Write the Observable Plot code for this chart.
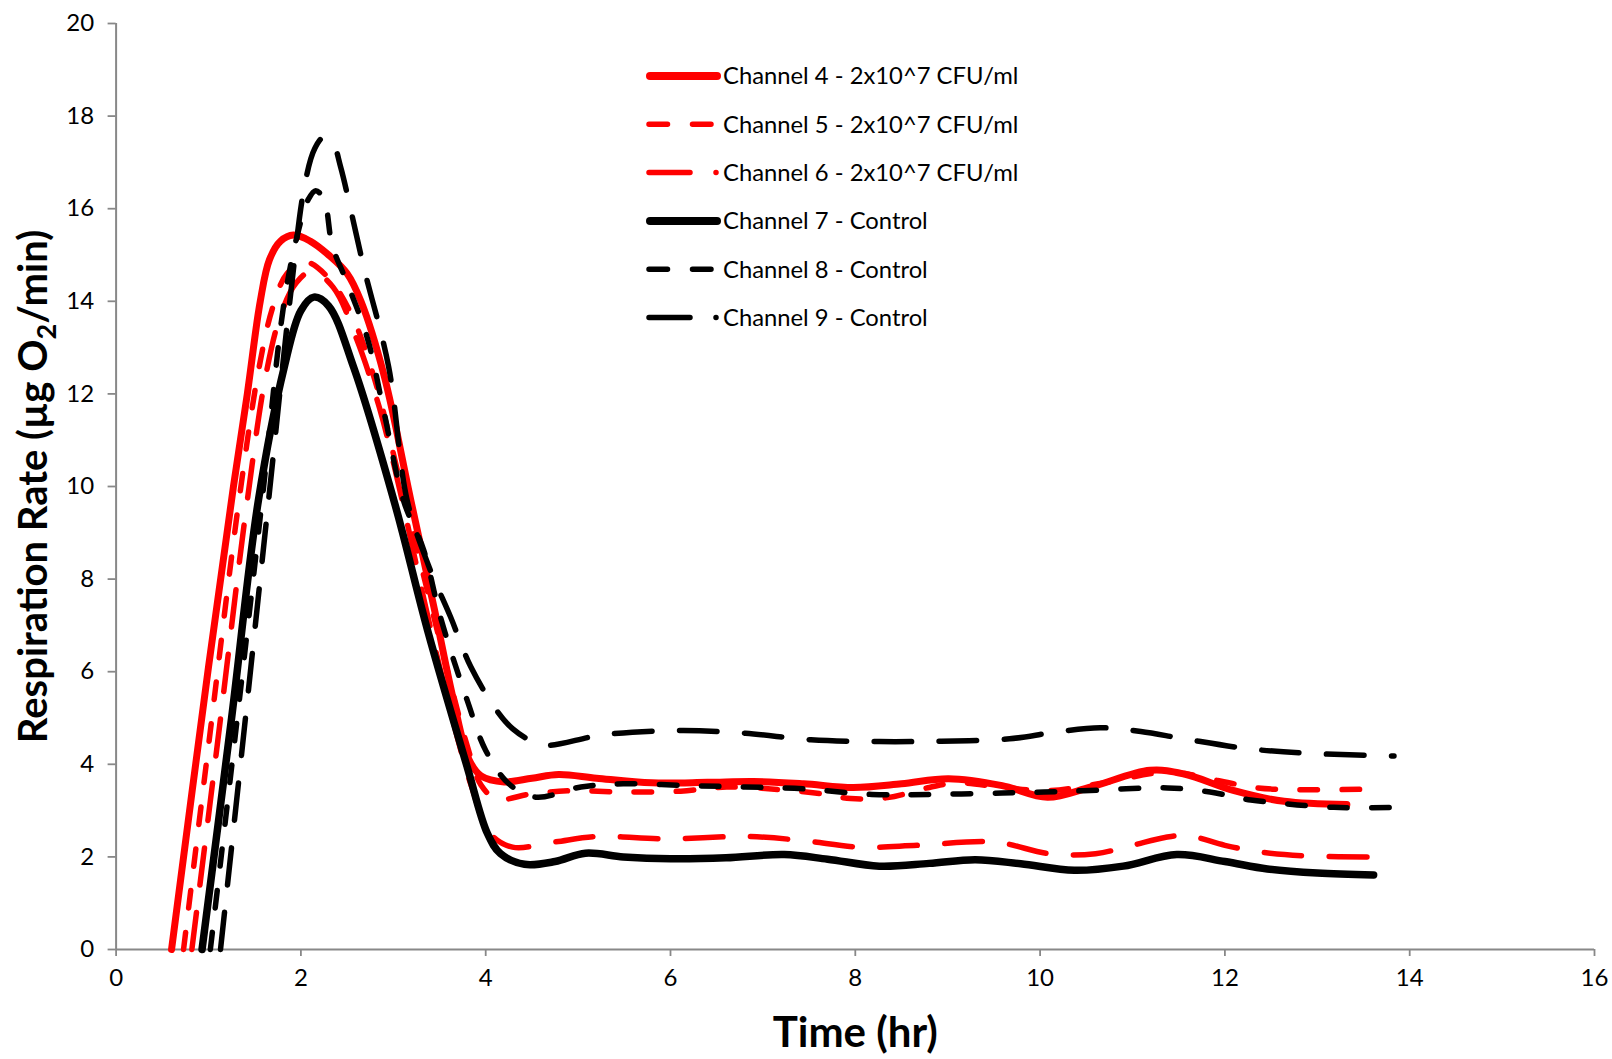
<!DOCTYPE html>
<html>
<head>
<meta charset="utf-8">
<script src="https://cdn.jsdelivr.net/npm/d3@7"></script>
<script src="https://cdn.jsdelivr.net/npm/@observablehq/plot@0.6"></script>
<style>
  body { margin: 0; background: #fff; }
  #chart { position: relative; width: 1612px; height: 1059px; }
</style>
</head>
<body>
<div id="chart"></div>
<script>
// ---------------- data ----------------
const seriesNames = [
  "Channel 4 - 2x10^7 CFU/ml",
  "Channel 5 - 2x10^7 CFU/ml",
  "Channel 6 - 2x10^7 CFU/ml",
  "Channel 7 - Control",
  "Channel 8 - Control",
  "Channel 9 - Control"
];

const ch4Time = [0.60, 1.0, 1.27, 1.42, 1.56, 1.66, 1.78, 1.92, 2.1, 2.3, 2.5, 2.65, 2.9, 3.19, 3.45, 3.65, 3.82, 3.95, 4.2, 4.5, 4.79, 5.2, 5.8, 6.4, 6.9, 7.44, 7.98, 8.5, 9.01, 9.59, 10.08, 10.55, 11.19, 11.56, 12.10, 12.64, 13.32];
const ch4Rate = [0, 6.1, 10.0, 12.0, 14.0, 14.9, 15.3, 15.43, 15.3, 15.0, 14.6, 14.0, 12.4, 9.7, 7.3, 5.4, 4.1, 3.75, 3.62, 3.7, 3.78, 3.7, 3.6, 3.61, 3.63, 3.58, 3.5, 3.58, 3.69, 3.54, 3.29, 3.51, 3.87, 3.79, 3.43, 3.2, 3.13];

const ch5Time = [0.73, 1.0, 1.33, 1.55, 1.7, 1.85, 2.05, 2.3, 2.55, 2.8, 3.05, 3.3, 3.55, 3.8, 3.95, 4.12, 4.49, 4.92, 5.5, 6.11, 6.61, 7.2, 7.64, 7.95, 8.35, 8.8, 9.1, 9.6, 10.1, 10.63, 11.4, 11.92, 12.35, 12.82, 13.48];
const ch5Rate = [0, 4.4, 9.7, 12.6, 13.9, 14.6, 14.85, 14.5, 13.7, 12.3, 10.3, 8.3, 6.3, 4.4, 3.55, 3.25, 3.36, 3.43, 3.4, 3.42, 3.51, 3.45, 3.36, 3.26, 3.28, 3.5, 3.6, 3.5, 3.43, 3.58, 3.83, 3.65, 3.49, 3.45, 3.46];

const ch6Time = [0.82, 1.1, 1.42, 1.62, 1.78, 1.95, 2.12, 2.35, 2.6, 2.85, 3.05, 3.35, 3.6, 3.85, 4.05, 4.29, 4.74, 5.2, 5.94, 6.86, 7.44, 8.06, 8.68, 9.51, 10.1, 10.6, 11.0, 11.35, 11.6, 12.0, 12.4, 12.9, 13.66];
const ch6Rate = [0, 4.5, 9.7, 12.4, 13.7, 14.4, 14.65, 14.3, 13.2, 11.7, 10.1, 7.4, 5.3, 3.5, 2.5, 2.21, 2.32, 2.44, 2.39, 2.44, 2.35, 2.21, 2.25, 2.32, 2.07, 2.07, 2.25, 2.42, 2.46, 2.25, 2.1, 2.02, 2.0];

const ch7Time = [0.93, 1.25, 1.54, 1.82, 2.0, 2.14, 2.3, 2.57, 3.02, 3.37, 3.80, 4.02, 4.16, 4.42, 4.75, 5.08, 5.49, 6.0, 6.6, 7.23, 7.7, 8.26, 8.8, 9.3, 9.79, 10.37, 10.9, 11.48, 12.0, 12.46, 13.0, 13.61];
const ch7Rate = [0, 5.0, 9.7, 12.58, 13.8, 14.09, 13.9, 12.58, 9.6, 6.9, 3.94, 2.5, 2.07, 1.84, 1.9, 2.08, 2.0, 1.96, 1.98, 2.05, 1.95, 1.8, 1.86, 1.94, 1.85, 1.71, 1.8, 2.05, 1.9, 1.74, 1.65, 1.61];

const ch8Time = [1.02, 1.3, 1.58, 1.82, 1.97, 2.08, 2.16, 2.25, 2.34, 2.5, 2.72, 2.9, 3.11, 3.33, 3.51, 3.80, 4.0, 4.25, 4.54, 5.03, 5.49, 6.19, 6.81, 7.44, 8.18, 8.80, 9.59, 10.04, 10.47, 11.38, 11.84, 12.28, 13.18, 13.85];
const ch8Rate = [0, 4.8, 9.7, 14.0, 15.5, 16.2, 16.39, 16.2, 15.2, 14.4, 13.2, 11.6, 9.7, 8.62, 7.18, 5.38, 4.3, 3.58, 3.29, 3.51, 3.58, 3.54, 3.51, 3.47, 3.35, 3.35, 3.38, 3.40, 3.43, 3.49, 3.40, 3.23, 3.07, 3.07];

const ch9Time = [1.13, 1.4, 1.65, 1.88, 2.04, 2.15, 2.25, 2.35, 2.43, 2.68, 2.95, 3.15, 3.38, 3.62, 3.84, 4.12, 4.29, 4.5, 4.66, 5.28, 6.11, 6.81, 7.52, 8.26, 8.93, 9.67, 10.15, 10.65, 11.09, 11.56, 12.28, 13.0, 13.83];
const ch9Rate = [0, 5.0, 9.7, 14.0, 16.5, 17.3, 17.55, 17.4, 16.9, 14.74, 12.58, 9.7, 8.3, 7.18, 6.10, 5.16, 4.77, 4.5, 4.41, 4.64, 4.73, 4.67, 4.53, 4.49, 4.50, 4.55, 4.69, 4.79, 4.71, 4.55, 4.33, 4.23, 4.18];

const xTicks = [0, 2, 4, 6, 8, 10, 12, 14, 16];
const yTicks = [0, 2, 4, 6, 8, 10, 12, 14, 16, 18, 20];
const xTitle = "Time (hr)";
const yTitle = "Respiration Rate (µg O2/min)";

// ---------------- styles ----------------
const seriesStyles = [
  {color: "#ff0000", width: 7,   dash: null,        legend: "solid"},
  {color: "#ff0000", width: 5.5, dash: "17.5,24.5", legend: "dash"},
  {color: "#ff0000", width: 5.5, dash: "37.5,27.5", legend: "dashdot"},
  {color: "#000000", width: 7.5, dash: null,        legend: "solid"},
  {color: "#000000", width: 5.5, dash: "17.5,24.5", legend: "dash"},
  {color: "#000000", width: 5.5, dash: "37.5,27.5", legend: "dashdot"}
];

const seriesData = [
  [ch4Time, ch4Rate], [ch5Time, ch5Rate], [ch6Time, ch6Rate],
  [ch7Time, ch7Rate], [ch8Time, ch8Rate], [ch9Time, ch9Rate]
].map(([ts, vs]) => ts.map((t, i) => ({t, v: vs[i]})));

const axisGrey = "#888888";

const lineMarks = seriesData.map((rows, i) => {
  const st = seriesStyles[i];
  const opts = {
    x: "t", y: "v", stroke: st.color, strokeWidth: st.width,
    curve: "catmull-rom", strokeLinecap: "round", strokeLinejoin: "round"
  };
  if (st.dash) opts.strokeDasharray = st.dash;
  return Plot.line(rows, opts);
});

const chart = Plot.plot({
  width: 1612,
  height: 1059,
  marginLeft: 115.6,
  marginRight: 18,
  marginTop: 23,
  marginBottom: 110,
  style: {fontFamily: "Lato, 'Open Sans', sans-serif", background: "#ffffff", color: "#000"},
  x: {domain: [0, 16]},
  y: {domain: [0, 20]},
  marks: [
    Plot.axisX(xTicks, {tickSize: 7, tickPadding: 12, fontSize: 24, stroke: axisGrey, strokeWidth: 1.8, fill: "#000", label: null}),
    Plot.axisY(yTicks, {tickSize: 8, tickPadding: 14, fontSize: 24, stroke: axisGrey, strokeWidth: 1.8, fill: "#000", label: null}),
    Plot.ruleY([0], {stroke: axisGrey, strokeWidth: 2}),
    Plot.ruleX([0], {stroke: axisGrey, strokeWidth: 2}),
    ...lineMarks,
    Plot.text([xTitle], {text: d => d, frameAnchor: "bottom", dy: 84, fontSize: 42, fontWeight: "bold", lineAnchor: "middle", fill: "#000"}),
    Plot.text([yTitle], {text: d => d, frameAnchor: "left", dx: -82, rotate: -90, textAnchor: "middle", lineAnchor: "middle", fontSize: 40, fontWeight: "bold", fill: "#000"})
  ]
});

document.getElementById("chart").appendChild(chart);

// subscript 2 in the y title
d3.select(chart).selectAll("text").each(function() {
  if (this.textContent === yTitle) {
    const el = d3.select(this);
    el.text(null);
    el.append("tspan").text("Respiration Rate (µg O");
    el.append("tspan").attr("dy", 9).attr("font-size", 27).text("2");
    el.append("tspan").attr("dy", -9).text("/min)");
  }
});

// legend inside the plot area
const lg = d3.select(chart).append("g")
  .attr("font-family", "Lato, 'Open Sans', sans-serif")
  .attr("font-size", 23.8)
  .attr("text-anchor", "start");
seriesNames.forEach((name, i) => {
  const st = seriesStyles[i];
  const y = 76 + i * 48.3;
  const g = lg.append("g");
  if (st.legend === "solid") {
    g.append("line").attr("x1", 650).attr("x2", 717).attr("y1", y).attr("y2", y)
      .attr("stroke", st.color).attr("stroke-width", 8).attr("stroke-linecap", "round");
  } else if (st.legend === "dash") {
    g.append("line").attr("x1", 649).attr("x2", 712).attr("y1", y).attr("y2", y)
      .attr("stroke", st.color).attr("stroke-width", 5.5).attr("stroke-linecap", "round")
      .attr("stroke-dasharray", "18.5,25");
  } else {
    g.append("line").attr("x1", 649).attr("x2", 717).attr("y1", y).attr("y2", y)
      .attr("stroke", st.color).attr("stroke-width", 5.5).attr("stroke-linecap", "round")
      .attr("stroke-dasharray", "41,26,0.01,100");
  }
  g.append("text").attr("x", 723).attr("y", y).attr("dy", "0.35em")
    .attr("text-anchor", "start").attr("fill", "#000").text(name);
});
</script>
</body>
</html>
